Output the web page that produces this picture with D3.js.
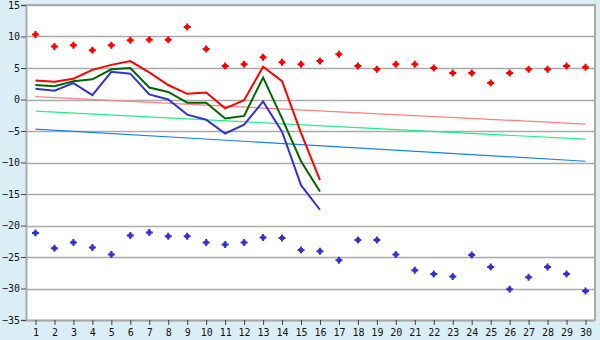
<!DOCTYPE html>
<html>
<head>
<meta charset="utf-8">
<script src="https://cdn.jsdelivr.net/npm/d3@7"></script>
<style>
  body { margin: 0; background: #daeef6; }
  svg { display: block; }
  text { font-family: "DejaVu Sans Mono", "Liberation Mono", monospace; font-size: 10px; fill: #111; }
</style>
</head>
<body>
<div id="chart"></div>
<script>
const WIDTH = 600;
const HEIGHT = 340;
const margin = { top: 5, right: 5, bottom: 20, left: 26 };

// x categories
const days = d3.range(1, 31);
const yTicks = [15, 10, 5, 0, -5, -10, -15, -20, -25, -30, -35];

// scatter points
const highPoints = [10.3, 8.4, 8.6, 7.8, 8.6, 9.4, 9.5, 9.5, 11.5, 8.0,
  5.3, 5.6, 6.7, 5.9, 5.6, 6.1, 7.2, 5.3, 4.8, 5.6,
  5.6, 5.0, 4.2, 4.2, 2.6, 4.2, 4.8, 4.8, 5.3, 5.1];
const lowPoints = [-21.2, -23.6, -22.7, -23.5, -24.6, -21.6, -21.1, -21.7, -21.7, -22.7,
  -23.0, -22.7, -21.9, -22.0, -23.9, -24.1, -25.5, -22.3, -22.3, -24.6,
  -27.1, -27.7, -28.1, -24.7, -26.6, -30.1, -28.2, -26.6, -27.7, -30.4];

// heavy lines (days 1..16)
const redLine = [3.0, 2.8, 3.3, 4.7, 5.5, 6.1, 4.3, 2.3, 0.9, 1.1, -1.4, -0.1, 5.2, 2.9, -5.3, -12.8];
const greenLine = [2.3, 2.1, 2.9, 3.2, 4.8, 5.0, 1.9, 1.2, -0.5, -0.5, -3.0, -2.6, 3.5, -3.0, -9.8, -14.6];
const blueLine = [1.7, 1.4, 2.6, 0.7, 4.4, 4.1, 0.8, 0.0, -2.4, -3.2, -5.4, -4.0, -0.3, -5.1, -13.6, -17.5];

// thin trend lines: value at day 1 and day 30
const pinkTrend = [0.45, -3.9];
const mintTrend = [-1.85, -6.3];
const skyTrend = [-4.7, -9.8];

const svg = d3.select("#chart").append("svg")
  .attr("width", WIDTH)
  .attr("height", HEIGHT);

const x = d3.scalePoint()
  .domain(days)
  .range([margin.left, WIDTH - margin.right])
  .padding(0.5);

const y = d3.scaleLinear()
  .domain([-35, 15])
  .range([HEIGHT - margin.bottom, margin.top]);

// plot background
svg.append("rect")
  .attr("x", margin.left)
  .attr("y", margin.top)
  .attr("width", WIDTH - margin.left - margin.right)
  .attr("height", HEIGHT - margin.top - margin.bottom)
  .attr("fill", "#fff");

// gridlines
svg.append("g")
  .selectAll("line")
  .data(yTicks)
  .enter()
  .append("line")
  .attr("x1", margin.left)
  .attr("x2", WIDTH - margin.right)
  .attr("y1", d => Math.round(y(d)) + 0.5)
  .attr("y2", d => Math.round(y(d)) + 0.5)
  .attr("stroke", "#aaa")
  .attr("stroke-width", 1.5);

// frame: top and right
svg.append("path")
  .attr("d", `M${margin.left},${margin.top}H${WIDTH - margin.right}V${HEIGHT - margin.bottom}`)
  .attr("fill", "none")
  .attr("stroke", "#aaa")
  .attr("stroke-width", 2);

// y axis
const yAxis = svg.append("g")
  .attr("transform", `translate(${margin.left},0)`)
  .call(d3.axisLeft(y).tickValues(yTicks).tickSize(5).tickPadding(1).tickFormat(d3.format("d")));
yAxis.select(".domain").attr("stroke", "#aaa").attr("stroke-width", 2);
yAxis.selectAll(".tick line").attr("stroke", "#444");
yAxis.selectAll("text").style("font-size", "10px").style("font-family", "'DejaVu Sans Mono', monospace").attr("fill", "#111");

// x axis
const xAxis = svg.append("g")
  .attr("transform", `translate(0,${HEIGHT - margin.bottom})`)
  .call(d3.axisBottom(x).tickSize(5).tickPadding(4).tickSizeOuter(0));
xAxis.select(".domain").attr("stroke", "#aaa").attr("stroke-width", 2);
xAxis.selectAll(".tick line").attr("stroke", "#444");
xAxis.selectAll("text").style("font-size", "10px").style("font-family", "'DejaVu Sans Mono', monospace").attr("fill", "#111");

const plot = svg.append("g");

// thin trend lines
const trends = [
  { vals: pinkTrend, color: "#ff8080" },
  { vals: mintTrend, color: "#22ee88" },
  { vals: skyTrend, color: "#1a80f0" }
];
trends.forEach(t => {
  plot.append("line")
    .attr("x1", x(days[0]))
    .attr("x2", x(days[days.length - 1]))
    .attr("y1", y(t.vals[0]))
    .attr("y2", y(t.vals[1]))
    .attr("stroke", t.color)
    .attr("stroke-width", 1.2);
});

// heavy lines
const line = d3.line()
  .x((d, i) => x(days[i]))
  .y(d => y(d));

[[blueLine, "#3333cc"], [greenLine, "#006600"], [redLine, "#ff0000"]].forEach(([vals, color]) => {
  plot.append("path")
    .datum(vals)
    .attr("d", line)
    .attr("fill", "none")
    .attr("stroke", color)
    .attr("stroke-width", 2);
});

// markers - small plus with a fat centre
const marker = "M-1,-3.5H1V-2H2V-1H3.5V1H2V2H1V3.5H-1V2H-2V1H-3.5V-1H-2V-2H-1Z";

function drawPoints(vals, color) {
  plot.append("g")
    .selectAll("path")
    .data(vals)
    .enter()
    .append("path")
    .attr("d", marker)
    .attr("transform", (d, i) => `translate(${x(days[i])},${y(d)})`)
    .attr("fill", color);
}

drawPoints(highPoints, "#ff0000");
drawPoints(lowPoints, "#3333cc");
</script>
</body>
</html>
